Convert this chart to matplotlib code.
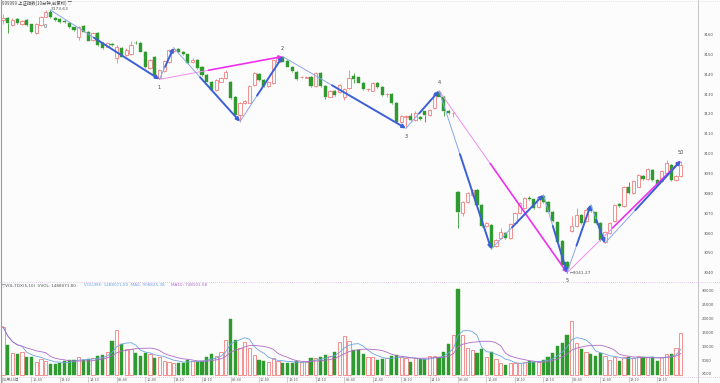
import numpy as np
import pandas as pd
import matplotlib
matplotlib.use('Agg')
import matplotlib.pyplot as plt

plt.rcParams['font.family'] = ['Noto Sans CJK SC', 'DejaVu Sans']

# 10-minute bars, 6 sessions x 24 bars
opens = [3168.6, 3169.5, 3166.1, 3169.1, 3166.6, 3168.6, 3166.4, 3161.9, 3166.1, 3170.3,
         3172.8, 3169.5, 3169.1, 3168.0, 3167.3, 3164.9, 3159.9, 3165.6, 3162.7, 3158.5,
         3161.9, 3156.9, 3155.2, 3156.5, 3149.3, 3154.4, 3151.0, 3151.5, 3157.0, 3156.9,
         3152.7, 3144.3, 3150.2, 3139.2, 3143.0, 3147.6, 3152.8, 3154.0, 3152.6, 3151.3,
         3147.3, 3148.5, 3145.1, 3140.9, 3137.6, 3133.4, 3137.6, 3139.2, 3137.6, 3130.0,
         3120.8, 3126.8, 3127.0, 3135.9, 3141.4, 3138.4, 3135.1, 3136.8, 3147.6, 3149.8,
         3148.1, 3145.1, 3142.6, 3139.7, 3139.6, 3140.1, 3135.4, 3142.1, 3135.4, 3130.0,
         3133.0, 3132.5, 3130.0, 3134.2, 3140.4, 3139.7, 3137.1, 3133.7, 3133.0, 3137.1,
         3135.0, 3131.1, 3131.3, 3127.0, 3117.4, 3119.5, 3120.0, 3118.0, 3119.8, 3122.5,
         3120.8, 3124.1, 3132.5, 3130.0, 3123.0, 3121.6, 3081.7, 3071.2, 3077.1, 3080.5,
         3083.0, 3075.5, 3064.6, 3065.4, 3054.5, 3058.6, 3061.2, 3058.7, 3066.2, 3071.2,
         3073.8, 3078.9, 3078.2, 3074.2, 3079.8, 3077.0, 3072.1, 3066.6, 3057.4, 3046.5,
         3062.1, 3064.6, 3070.5, 3067.1, 3074.7, 3071.7, 3066.3, 3057.0, 3061.2, 3067.1,
         3076.0, 3074.7, 3084.4, 3081.4, 3084.7, 3090.1, 3088.4, 3093.1, 3088.1, 3087.3,
         3091.5, 3095.6, 3087.8, 3089.8]
closes = [3169.5, 3167.3, 3168.6, 3167.3, 3168.3, 3166.1, 3162.4, 3166.6, 3170.3, 3172.8,
          3170.0, 3168.8, 3167.8, 3167.4, 3164.9, 3163.6, 3164.9, 3162.7, 3158.2, 3161.9,
          3156.0, 3154.4, 3156.9, 3156.0, 3155.2, 3150.2, 3153.5, 3156.0, 3156.8, 3152.7,
          3145.1, 3148.5, 3140.9, 3143.4, 3147.8, 3153.3, 3153.8, 3152.6, 3151.3, 3146.8,
          3148.3, 3144.3, 3140.9, 3137.6, 3133.4, 3138.4, 3139.2, 3142.6, 3129.2, 3120.8,
          3126.7, 3127.8, 3135.4, 3141.8, 3138.4, 3135.4, 3137.6, 3148.5, 3149.3, 3147.6,
          3145.1, 3142.9, 3138.7, 3140.0, 3140.1, 3135.4, 3141.8, 3135.4, 3130.0, 3133.0,
          3130.9, 3135.9, 3133.7, 3139.2, 3138.7, 3137.1, 3133.7, 3134.0, 3137.1, 3134.7,
          3130.9, 3131.3, 3126.7, 3117.4, 3120.3, 3120.0, 3118.3, 3121.6, 3118.6, 3120.8,
          3123.3, 3131.3, 3130.0, 3123.0, 3121.6, 3121.8, 3072.1, 3077.1, 3081.3, 3083.0,
          3075.5, 3064.6, 3066.2, 3053.6, 3057.8, 3062.0, 3058.6, 3065.9, 3071.2, 3076.3,
          3078.9, 3078.4, 3074.0, 3079.3, 3077.0, 3072.1, 3067.1, 3057.0, 3045.3, 3043.0,
          3064.6, 3070.5, 3066.3, 3073.0, 3072.2, 3066.3, 3057.9, 3061.6, 3066.3, 3075.5,
          3075.0, 3084.4, 3081.4, 3087.3, 3090.6, 3088.4, 3093.5, 3088.1, 3086.1, 3092.3,
          3096.5, 3088.1, 3090.1, 3095.6]
highs = [3171.5, 3170.0, 3169.5, 3169.6, 3168.8, 3169.0, 3166.8, 3167.0, 3170.8, 3173.4,
         3173.63, 3170.0, 3169.5, 3168.5, 3167.6, 3165.3, 3165.4, 3166.0, 3163.0, 3162.3,
         3162.3, 3157.3, 3157.4, 3157.0, 3156.0, 3155.0, 3154.5, 3158.2, 3158.0, 3157.3,
         3153.0, 3149.0, 3150.6, 3144.0, 3148.3, 3153.8, 3154.6, 3154.4, 3153.0, 3151.6,
         3149.6, 3148.9, 3145.5, 3141.3, 3138.0, 3138.9, 3139.7, 3143.3, 3138.0, 3130.4,
         3127.2, 3128.3, 3135.9, 3142.3, 3141.8, 3138.8, 3138.1, 3149.0, 3149.8, 3150.2,
         3148.5, 3145.5, 3143.0, 3140.5, 3140.6, 3140.5, 3142.3, 3142.5, 3135.8, 3133.5,
         3133.4, 3136.4, 3134.2, 3143.5, 3142.0, 3140.1, 3137.5, 3134.5, 3137.6, 3137.5,
         3135.4, 3131.8, 3131.7, 3127.4, 3120.8, 3120.5, 3121.5, 3122.6, 3120.2, 3123.0,
         3123.8, 3131.8, 3132.9, 3130.4, 3123.4, 3122.3, 3082.2, 3077.6, 3081.8, 3083.5,
         3083.4, 3075.9, 3066.7, 3065.8, 3058.3, 3063.8, 3061.6, 3066.4, 3071.7, 3076.8,
         3079.6, 3079.8, 3078.6, 3079.8, 3080.5, 3077.4, 3072.5, 3067.0, 3057.8, 3047.0,
         3070.0, 3073.8, 3070.9, 3073.5, 3075.5, 3072.1, 3066.7, 3062.1, 3066.8, 3076.0,
         3076.5, 3084.9, 3087.0, 3087.8, 3091.1, 3090.5, 3094.0, 3093.5, 3088.5, 3092.8,
         3098.2, 3096.0, 3090.6, 3097.7]
lows = [3166.5, 3161.9, 3165.5, 3166.8, 3166.0, 3165.6, 3162.0, 3161.5, 3165.8, 3170.0,
        3169.6, 3168.3, 3167.3, 3166.9, 3164.5, 3163.2, 3158.5, 3162.3, 3157.8, 3158.0,
        3155.5, 3153.8, 3154.8, 3155.5, 3146.8, 3149.8, 3150.5, 3151.0, 3156.3, 3152.3,
        3144.6, 3143.8, 3140.4, 3138.7, 3142.5, 3147.0, 3152.3, 3152.2, 3150.9, 3146.3,
        3147.0, 3143.8, 3140.4, 3137.2, 3133.0, 3132.9, 3137.2, 3138.8, 3128.7, 3120.3,
        3117.4, 3126.3, 3126.6, 3135.4, 3138.0, 3135.0, 3134.7, 3136.3, 3147.1, 3147.2,
        3144.7, 3142.5, 3138.3, 3139.3, 3139.2, 3135.0, 3135.0, 3135.0, 3129.0, 3129.6,
        3130.5, 3132.0, 3128.3, 3133.8, 3136.8, 3136.7, 3133.3, 3132.6, 3132.6, 3134.3,
        3130.5, 3129.8, 3126.3, 3116.9, 3116.5, 3114.0, 3117.9, 3117.5, 3118.2, 3117.0,
        3120.4, 3123.6, 3129.6, 3120.0, 3121.2, 3119.6, 3063.7, 3069.6, 3076.6, 3080.0,
        3075.1, 3064.2, 3064.2, 3053.2, 3054.0, 3058.2, 3058.2, 3058.3, 3065.8, 3070.8,
        3073.3, 3077.8, 3073.6, 3073.8, 3076.6, 3071.7, 3066.7, 3056.6, 3044.9, 3041.27,
        3061.6, 3064.2, 3065.9, 3066.7, 3071.8, 3065.9, 3057.5, 3056.2, 3060.8, 3066.7,
        3074.6, 3074.3, 3081.0, 3081.0, 3084.3, 3088.0, 3088.0, 3087.7, 3085.7, 3086.9,
        3091.1, 3087.7, 3087.4, 3089.4]
# volume in units of 100
vols = [17240, 10710, 7740, 7500, 8330, 6310, 6550, 4760, 5590, 5120,
        3930, 3930, 4400, 5000, 5360, 5360, 6310, 5360, 5590, 5950,
        6780, 7140, 8330, 12260, 16070, 11070, 9160, 9160, 7970, 6780,
        7970, 7500, 5950, 6310, 5120, 4760, 4400, 4400, 4400, 5360,
        5120, 4760, 5000, 6310, 7380, 6780, 8330, 12620, 19870, 12620,
        9520, 11900, 9760, 7140, 5360, 5000, 4760, 5950, 5120, 4400,
        4160, 4160, 5120, 4760, 4760, 5950, 5950, 6310, 7140, 6780,
        8330, 11900, 13920, 12260, 8930, 8930, 7500, 6550, 6310, 5360,
        5590, 5950, 6780, 7140, 6550, 5950, 4760, 5950, 5590, 5590,
        6780, 6780, 6550, 8330, 11070, 14280, 30590, 14280, 9520, 8930,
        7740, 9160, 6310, 8330, 5590, 4400, 3570, 4400, 4160, 4400,
        4760, 5120, 4760, 4760, 5360, 6310, 7740, 10350, 11310, 14280,
        19280, 11310, 9160, 8330, 7500, 6780, 7970, 6780, 5360, 6310,
        5120, 6310, 6310, 5950, 6780, 6310, 6550, 6310, 5120, 6310,
        7500, 7500, 9520, 14880]

# zigzag turning points
wave_idx = [10, 33, 36, 50, 59, 85, 92, 103, 114, 119, 124, 127, 143]
wave_px = [3173.63, 3138.7, 3154.6, 3117.4, 3150.2, 3114.0, 3132.9, 3053.2, 3080.5,
           3041.27, 3075.5, 3056.2, 3097.7]
wave_lbl = ['0', '1', '', '', '2', '3', '4', '', '', '5', '', '', '50']
big_wave = [(1, 4), (6, 9), (9, 12)]  # pairs of wave_idx positions

price_ticks = [3040, 3050, 3060, 3070, 3080, 3090, 3100, 3110, 3120, 3130, 3140, 3150, 3160]
vol_ticks = [5000, 10000, 15000, 20000, 25000, 30000]
day_first = '05月24日'
time_lbls = ['09:40', '10:40', '13:10', '14:10']
time_pos = [0, 6, 12, 18]
n_days = 6

W, H = 720, 383
bg = '#fcfcfc'
up_c = '#f37f7f'
dn_c = '#2f9a2f'
txt_c = '#555555'

fig = plt.figure(figsize=(W / 100, H / 100), dpi=100, facecolor=bg)


def fx(x):
    return x / W


def fy(y):
    return 1 - y / H


ax = fig.add_axes([fx(2), fy(281), 695 / W, 279 / H], facecolor=bg)
vax = fig.add_axes([fx(2), fy(376), 695 / W, 93 / H], facecolor=bg)

o = np.array(opens)
c = np.array(closes)
hi = np.array(highs)
lo = np.array(lows)
v = np.array(vols)
x = np.arange(len(o))
up = c >= o
bw = 0.68

# candles
top = np.maximum(o, c)
bot = np.minimum(o, c)
cols = np.where(up, up_c, dn_c)
ax.vlines(x, top, hi, colors=cols, lw=0.6)
ax.vlines(x, lo, bot, colors=cols, lw=0.6)
hgt = np.maximum(top - bot, 0.25)
ax.bar(x[up], hgt[up], bottom=bot[up], width=bw, facecolor=bg, edgecolor=up_c, lw=0.6)
ax.bar(x[~up], hgt[~up], bottom=bot[~up], width=bw, color=dn_c, edgecolor=dn_c, lw=0.3)


def seg(p0, p1, light, dark, lw_dark):
    xm = p0[0] + (p1[0] - p0[0]) * 0.4
    ym = p0[1] + (p1[1] - p0[1]) * 0.4
    ax.plot([p0[0], xm], [p0[1], ym], color=light, lw=0.7, zorder=4)
    ax.annotate('', xy=p1, xytext=(xm, ym),
                arrowprops=dict(arrowstyle='-|>', color=dark, lw=lw_dark,
                                mutation_scale=5, shrinkA=0, shrinkB=0), zorder=4)


pts = list(zip(wave_idx, wave_px))
for a, b in big_wave:
    seg(pts[a], pts[b], '#f08cf0', '#ee30ee', 1.2)
for i in range(len(pts) - 1):
    seg(pts[i], pts[i + 1], '#8aa6ec', '#3d5fd6', 1.4)

offs = {'0': (-4, -10), '5': (0, -4), '1': (0, -4), '3': (0, -4)}
for (xi, p), lb in zip(pts, wave_lbl):
    if not lb:
        continue
    dx, dy = offs.get(lb, (0, 4))
    ax.annotate(lb, (xi, p), xytext=(dx, dy), textcoords='offset points',
                ha='center', va='top' if dy < 0 else 'bottom', fontsize=3.6,
                color='#444444', family='DejaVu Sans')

ax.annotate('\u21903041.27', (119, 3041.27), xytext=(2, -0.5), textcoords='offset points',
            ha='left', va='center', fontsize=3.2, color='#555555', family='DejaVu Sans')
ax.annotate('3173.63', (10, 3173.63), xytext=(0, 0.5), textcoords='offset points',
            ha='left', va='center', fontsize=3.2, color='#555555', family='DejaVu Sans')

xmin = (2 - 3) / 4.74
xmax = xmin + 695 / 4.74
ax.set_xlim(xmin, xmax)
ax.set_ylim(3173.63 - 271 / 1.985, 3173.63 + 8 / 1.985)
for t in price_ticks:
    ax.text(1.009, t, str(t), transform=ax.get_yaxis_transform(), fontsize=2.8,
            color=txt_c, ha='left', va='bottom', family='DejaVu Sans', clip_on=False)

# volume
vcols = np.where(up, up_c, dn_c)
vax.bar(x[up], v[up], width=bw, facecolor=bg, edgecolor=up_c, lw=0.6)
vax.bar(x[~up], v[~up], width=bw, color=dn_c, edgecolor=dn_c, lw=0.3)
ma5 = pd.Series(v).rolling(5, min_periods=1).mean()
ma10 = pd.Series(v).rolling(10, min_periods=1).mean()
vax.plot(x, ma5, color='#6fa3e6', lw=0.6)
vax.plot(x, ma10, color='#b06ac8', lw=0.6)
vax.set_xlim(xmin, xmax)
vax.set_ylim(-357, 32844)
for t in vol_ticks:
    vax.text(1.007, t, str(t), transform=vax.get_yaxis_transform(), fontsize=2.8,
             color=txt_c, ha='left', va='center', family='DejaVu Sans', clip_on=False)

for a in (ax, vax):
    a.set_xticks([])
    a.set_yticks([])
    for s in a.spines.values():
        s.set_visible(False)

# frame lines
fig.add_artist(plt.Line2D([fx(697.5), fx(697.5)], [fy(0), fy(383)], color='#bbbbbb', lw=0.6))
fig.add_artist(plt.Line2D([fx(0.7), fx(0.7)], [fy(0), fy(383)], color='#999999', lw=0.8))
fig.add_artist(plt.Line2D([0, fx(720)], [fy(282), fy(282)], color='#d6b6e6', lw=0.6, ls=(0, (1, 1.5))))
fig.add_artist(plt.Line2D([0, fx(720)], [fy(376.5), fy(376.5)], color='#d6b6e6', lw=0.6, ls=(0, (1, 1.5))))
fig.add_artist(plt.Line2D([0, fx(720)], [fy(0.6), fy(0.6)], color='#dddddd', lw=0.6, ls=(0, (1, 1.5))))

# headers
fig.text(fx(2), fy(3.5), '999999 上证指数(10分钟,前复权) ▽', fontsize=3.2, color='#444444',
         ha='left', va='center')
hdr = [('\u25bdVOL-TDX(5,10)  VVOL: 1488071.80  ', '#555555'),
       ('VOLUME: 1488071.80  MA5: 908825.38  ', '#6fa3e6'),
       ('MA10: 748501.58', '#b06ac8')]
xpos = 2
for s, col in hdr:
    t = fig.text(fx(xpos), fy(285.5), s, fontsize=3.0, color=col, ha='left', va='center',
                 family='DejaVu Sans')
    xpos += len(s) * 2.42

vax.text(1.007, -357, 'X100', transform=vax.get_yaxis_transform(), fontsize=2.8,
         color=txt_c, ha='left', va='bottom', family='DejaVu Sans', clip_on=False)

# time axis labels
for d in range(n_days):
    for k, (lb, p) in enumerate(zip(time_lbls, time_pos)):
        i = d * 24 + p
        px_ = 3 + 4.74 * i
        if d == 0 and k == 0:
            lb = day_first
            px_ = 2
        fig.text(fx(px_ + 1), fy(380), lb, fontsize=2.8, color='#666666', ha='left',
                 va='center')
        fig.add_artist(plt.Line2D([fx(px_), fx(px_)], [fy(377), fy(382)], color='#bbbbbb',
                                  lw=0.5))

fig.savefig('out.png', dpi=100, facecolor=bg)
